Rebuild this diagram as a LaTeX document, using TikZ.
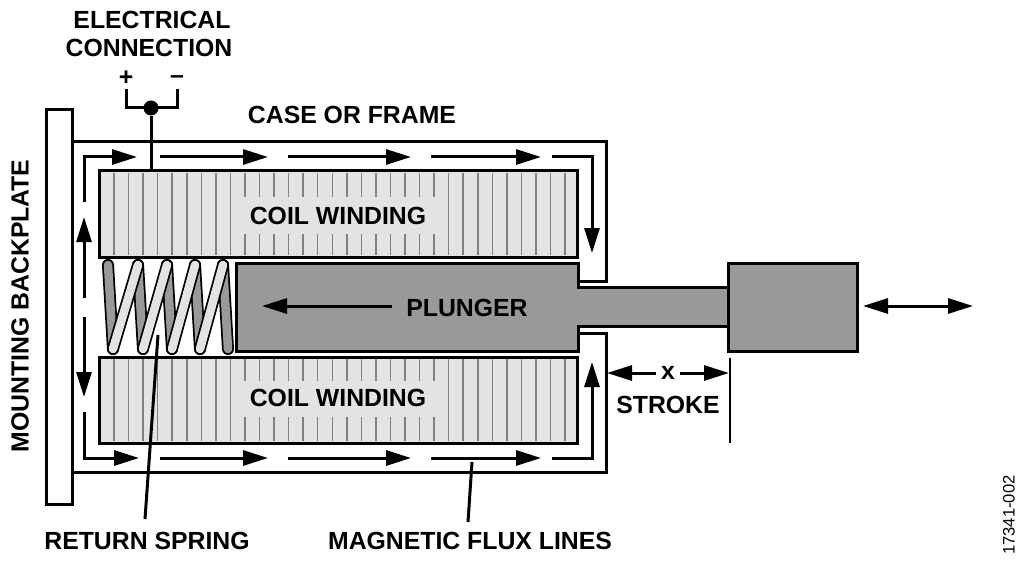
\documentclass[tikz,border=0pt]{standalone}
\usepackage{fontspec}
\setmainfont{Liberation Sans}
\usetikzlibrary{arrows.meta}

\tikzset{
	wall/.style={draw=black, line width=3pt},
	winding/.style={wall, fill=black!11},
	steel/.style={fill=black!40},
	hatch/.style={draw=black!50, line width=1.5pt},
	flux/.style={draw=black, line width=3pt, -{Triangle[length=25pt,width=15pt]}},
	fluxline/.style={draw=black, line width=3pt},
	thinline/.style={draw=black, line width=2pt},
	caption/.style={font=\fontsize{24.8}{28}\selectfont\bfseries, align=center, inner sep=0pt}
}

\begin{document}
\begin{tikzpicture}[x=1pt, y=-1pt]
\useasboundingbox (0,0) rectangle (1024,564);

% case and backplate
\draw[wall] (72,142) -- (606,142) -- (606,281) -- (578,281);
\draw[wall] (578,333) -- (606,333) -- (606,472) -- (72,472);
\draw[wall, fill=white] (46,110) rectangle (72,504);

% coils
\draw[winding] (99,171) rectangle (577,257);
\draw[winding] (99,357) rectangle (577,443);
\foreach \i in {0,...,31} {
	\pgfmathsetmacro{\hx}{114+14.55*\i}
	\ifdim\hx pt>235pt \ifdim\hx pt<440pt
		\draw[hatch] (\hx,173) -- (\hx,197) (\hx,234) -- (\hx,255);
		\draw[hatch] (\hx,359) -- (\hx,381) (\hx,417) -- (\hx,441);
	\else
		\draw[hatch] (\hx,173) -- (\hx,255);
		\draw[hatch] (\hx,359) -- (\hx,441);
	\fi \else
		\draw[hatch] (\hx,173) -- (\hx,255);
		\draw[hatch] (\hx,359) -- (\hx,441);
	\fi
}
\fill[white] (100.5,258.5) rectangle (577,355.5);

% spring
\foreach \x/\y in {108/113,138/143,167/172,195/200,223/228} {
	\draw[line width=12pt, line cap=round] (\x,265) -- (\y,349);
	\draw[line width=8.5pt, line cap=round, draw=black!40] (\x,265) -- (\y,349);
}
\foreach \x/\y in {113/138,143/167,172/195,200/223} {
	\draw[line width=12pt, line cap=round] (\x,349) -- (\y,265);
	\draw[line width=8.5pt, line cap=round, draw=black!11] (\x,349) -- (\y,265);
}

% plunger and block
\draw[wall, steel] (236,263) -- (578,263) -- (578,287) -- (728,287) -- (728,326) -- (578,326) -- (578,351) -- (236,351) -- cycle;
\draw[wall, steel] (728,263) rectangle (857,351);

% flux
\draw[flux] (84,202) -- (84,157) -- (137,157);
\foreach \a/\b in {160/268,288/411,431/541} {
	\draw[flux] (\a,157) -- (\b,157);
	\draw[flux] (\a,458) -- (\b,458);
}
\draw[flux] (552,157) -- (592,157) -- (592,253);
\draw[flux] (84,298) -- (84,217);
\draw[flux] (84,317) -- (84,397);
\draw[flux] (84,412) -- (84,458) -- (139,458);
\draw[flux] (552,458) -- (592,458) -- (592,362);

% electrical connection
\coordinate (plus) at (126,89);
\coordinate (minus) at (177,89);
\node[circle, fill=black, inner sep=0pt, minimum size=15pt] (dot) at (151,108) {};
\draw[wall] (plus) -- (126,108) -- (177,108) -- (minus);
\draw[wall] (dot) -- (151,171);

% labels
\node[caption] (electrical) at (152,20) {ELECTRICAL};
\node[caption] (connection) at (149,48) {CONNECTION};
\node[caption] (plussign) at (126,78) {+};
\node[caption] (minussign) at (177,80) {–};
\node[caption] (casefr) at (352,115) {CASE OR FRAME};
\node[caption] (coilup) at (338,216) {COIL WINDING};
\node[caption] (coildown) at (338,398) {COIL WINDING};
\node[caption] (plunger) at (467,308) {PLUNGER};
\node[caption] (stroke) at (668,405) {STROKE};
\node[caption] (xlabel) at (668,373) {x};
\node[caption] (spring) at (147,541) {RETURN SPRING};
\node[caption] (fluxlabel) at (470,541) {MAGNETIC FLUX LINES};
\node[caption, rotate=90] (backplate) at (20,306) {MOUNTING BACKPLATE};
\node[font=\fontsize{16.6}{18}\selectfont, rotate=90, inner sep=0pt] (figid) at (1009,515) {17341-002};

% dimension and motion arrows
\coordinate (strokeleft) at (607,373);
\coordinate (strokeright) at (729,373);
\draw[flux] (656,373) -- (strokeleft);
\draw[flux] (680,373) -- (strokeright);
\draw[thinline] (730,358) -- (730,443);
\draw[flux] (392,306) -- (262,306);
\draw[fluxline, {Triangle[length=25pt,width=15pt]}-{Triangle[length=25pt,width=15pt]}] (863,306) -- (973,306);

% leaders
\draw[fluxline] (158,335) -- (145,519);
\draw[fluxline] (472,462) -- (468,522);
\end{tikzpicture}
\end{document}
